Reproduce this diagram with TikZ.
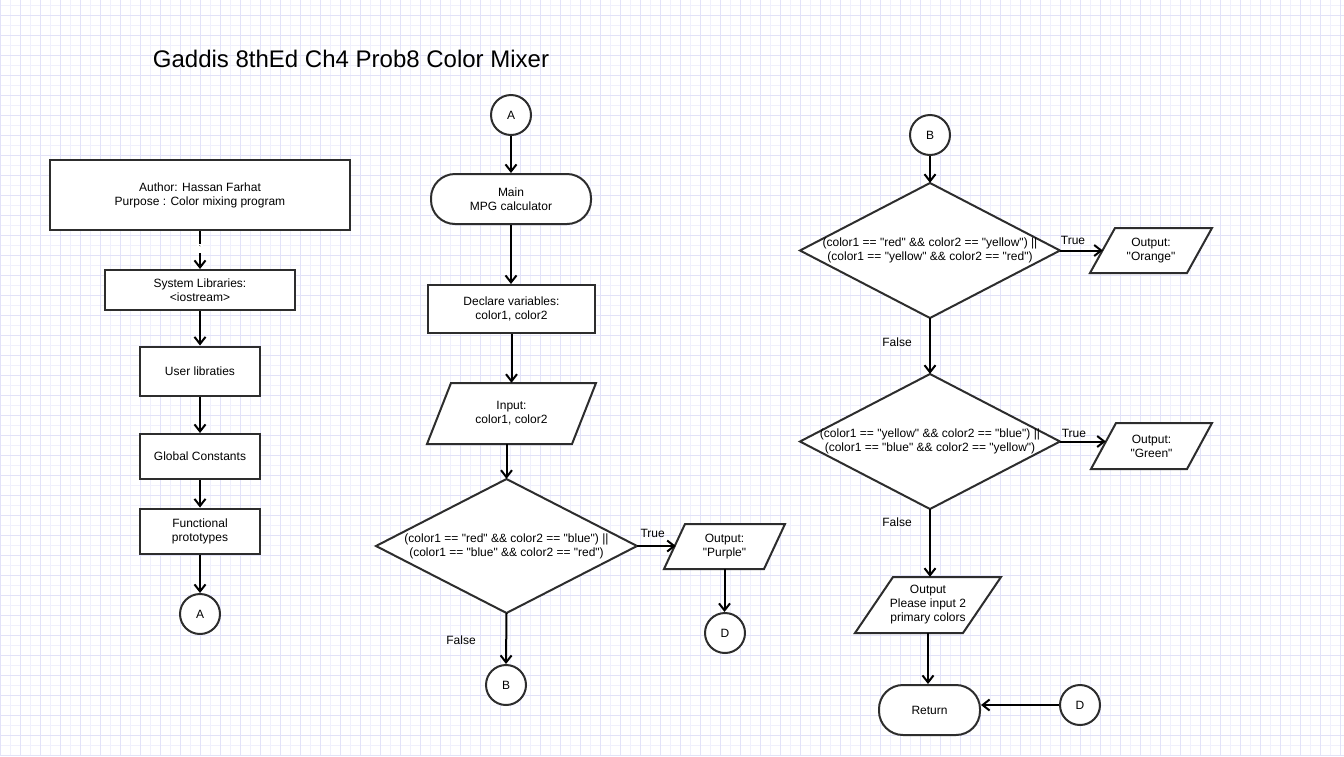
\documentclass[tikz,border=0pt]{standalone}
\usepackage{fontspec}
\setmainfont{Liberation Sans}[Ligatures=TeXOff]
\usetikzlibrary{arrows.meta}
\definecolor{gridA}{RGB}{226,226,248}
\definecolor{gridB}{RGB}{240,240,252}
\definecolor{strk}{RGB}{45,45,45}
\newcommand\dfont{\fontsize{12}{14}\selectfont}
\tikzset{
  shp/.style={draw=strk, line width=2pt, fill=white, line join=miter},
  box/.style={shp, rectangle, inner sep=0pt, align=center, font=\dfont},
  term/.style={box, rounded corners=24pt},
  conn/.style={shp, circle, minimum size=40pt, inner sep=0pt, font=\dfont},
  txt/.style={inner sep=0pt, align=center, font=\dfont},
  arr/.style={line width=2pt, draw=black, -{Straight Barb[length=7pt,width=11pt]}},
  lbl/.style={inner sep=1pt, font=\dfont}
}
% parallelogram: name, cx, cy, w, h, slant, text
\newcommand\paranode[7]{%
  \draw[shp] ({#2-#4/2+#6},{#3-#5/2}) -- ({#2+#4/2},{#3-#5/2}) -- ({#2+#4/2-#6},{#3+#5/2}) -- ({#2-#4/2},{#3+#5/2}) -- cycle;
  \node[txt, minimum width=#4pt, minimum height=#5pt] (#1) at (#2,#3) {#7};}
% diamond: name, cx, cy, w, h, text
\newcommand\dianode[6]{%
  \draw[shp] ({#2},{#3-#5/2}) -- ({#2+#4/2},{#3}) -- ({#2},{#3+#5/2}) -- ({#2-#4/2},{#3}) -- cycle;
  \node[txt, minimum width=#4pt, minimum height=#5pt] (#1) at (#2,#3) {#6};}
\begin{document}
\begin{tikzpicture}[x=1pt, y=-1pt]
\useasboundingbox (0,0) rectangle (1344,756);
\fill[white] (0,0) rectangle (1344,756);
% grid
\foreach \i in {0,...,67} {
  \draw[gridB, line width=1pt] ({\i*20+10},0) -- ({\i*20+10},756);
}
\foreach \j in {0,...,37} {
  \draw[gridB, line width=1pt] (0,{\j*20+5}) -- (1344,{\j*20+5});
}
\foreach \i in {0,...,67} {
  \draw[gridA, line width=1pt] ({\i*20},0) -- ({\i*20},756);
}
\foreach \j in {0,...,37} {
  \draw[gridA, line width=1pt] (0,{\j*20+15}) -- (1344,{\j*20+15});
}

% title
\node[font=\fontsize{24}{28}\selectfont, inner sep=0pt] (title) at (351,59) {Gaddis 8thEd Ch4 Prob8 Color Mixer};

% left column
\node[box, minimum width=300pt, minimum height=70pt] (author) at (200,195) {Author: Hassan Farhat\\Purpose : Color mixing program};
\node[box, minimum width=190pt, minimum height=40pt] (syslib) at (200,290) {System Libraries:\\<iostream>};
\node[box, minimum width=120pt, minimum height=49pt] (userlib) at (200,371) {User libraties};
\node[box, minimum width=120pt, minimum height=45pt] (globconst) at (200,456.5) {Global Constants};
\node[box, minimum width=120pt, minimum height=45pt] (funcproto) at (200,531) {Functional\\prototypes};
\node[conn] (cA1) at (200,614) {A};

\draw[arr] (author) -- node[fill=white, inner sep=1.5pt, font=\fontsize{8}{8}\selectfont, pos=0.45] {`} (syslib);
\draw[arr] (syslib) -- (userlib);
\draw[arr] (userlib) -- (globconst);
\draw[arr] (globconst) -- (funcproto);
\draw[arr] (funcproto) -- (cA1);

% middle column
\node[conn] (cA2) at (511,115) {A};
\node[term, minimum width=160pt, minimum height=50pt] (main) at (511,199) {Main\\MPG calculator};
\node[box, minimum width=167pt, minimum height=48pt] (declare) at (511.5,309) {Declare variables:\\color1, color2};
\paranode{input}{511.5}{413.5}{169}{61}{24}{Input:\\color1, color2}
\dianode{d1}{506.5}{546}{261}{134}{(color1 == "red" \&\& color2 == "blue") ||\\(color1 == "blue" \&\& color2 == "red")}
\paranode{purple}{724.5}{546.5}{121}{45}{21}{Output:\\"Purple"}
\node[conn] (cD1) at (725,633) {D};
\node[conn] (cB1) at (506,685) {B};

\draw[arr] (cA2) -- (main);
\draw[arr] (main.south) -- (main.south |- declare.north);
\draw[arr] (declare.south) -- (declare.south |- input.north);
\draw[arr] (d1.north |- input.south) -- (d1.north);
\coordinate (pin) at ([xshift=12pt]purple.west);
\draw[arr] (d1.east) -- node[lbl, above, pos=0.4, yshift=6pt] {True} (pin |- d1.east);
\draw[arr] (purple.south) -- (purple.south |- cD1.north);
\draw[arr] (d1.south) -- (cB1.north);
\node[lbl] (f1) at (461,640) {False};

% right column
\node[conn] (cB2) at (930,135) {B};
\dianode{d2}{930}{250.5}{260}{135}{(color1 == "red" \&\& color2 == "yellow") ||\\(color1 == "yellow" \&\& color2 == "red")}
\paranode{orange}{1151}{250.5}{122}{45}{25}{Output:\\"Orange"}
\dianode{d3}{930}{441.5}{260}{135}{(color1 == "yellow" \&\& color2 == "blue") ||\\(color1 == "blue" \&\& color2 == "yellow")}
\paranode{green}{1151.5}{446}{121}{46}{25}{Output:\\"Green"}
\paranode{outmsg}{928}{605}{146}{56}{38}{Output\\Please input 2\\primary colors}
\node[term, minimum width=101pt, minimum height=50pt] (ret) at (929.5,710) {Return};
\node[conn] (cD2) at (1080,705) {D};

\draw[arr] (cB2) -- (d2.north);
\coordinate (oin) at ([xshift=13pt]orange.west);
\draw[arr] (d2.east) -- node[lbl, above, pos=0.3, yshift=4pt] {True} (oin |- d2.east);
\draw[arr] (d2.south) -- (d3.north);
\node[lbl] (f2) at (897,342) {False};
\coordinate (gin) at ([xshift=15pt]green.west);
\draw[arr] (d3.east) -- node[lbl, above, pos=0.3, yshift=2pt] {True} (gin |- d3.east);
\draw[arr] (d3.south) -- (d3.south |- outmsg.north);
\node[lbl] (f3) at (897,522) {False};
\draw[arr] (outmsg.south) -- (outmsg.south |- ret.north);
\draw[arr] (cD2.west) -- (ret.east |- cD2.west);
\end{tikzpicture}
\end{document}
